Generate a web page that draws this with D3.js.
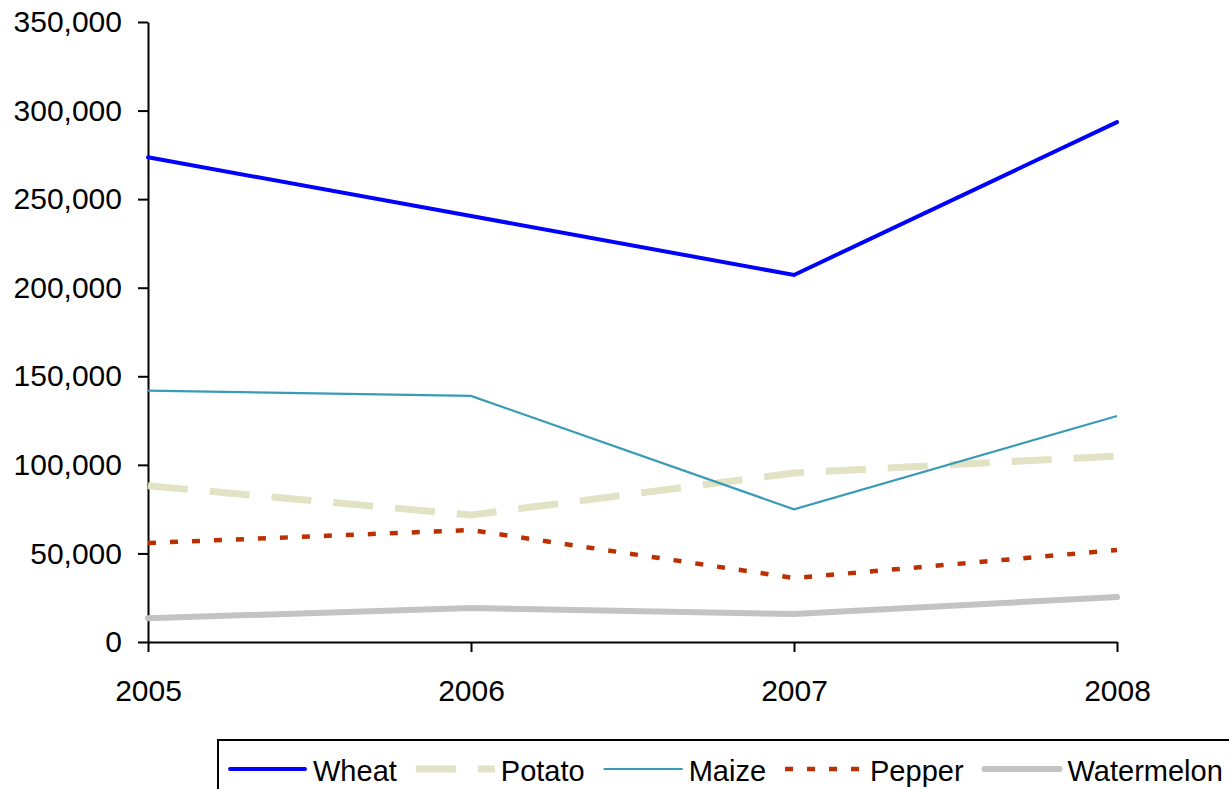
<!DOCTYPE html>
<html>
<head>
<meta charset="utf-8">
<script src="https://cdn.jsdelivr.net/npm/d3@7"></script>
<style>
  html, body { margin: 0; padding: 0; background: #fff; }
  svg { display: block; font-family: "Liberation Sans", Arial, sans-serif; }
</style>
</head>
<body>
<svg id="chart" width="1229" height="789"></svg>
<script>
const years = ["2005", "2006", "2007", "2008"];
const wheat = [273600, 240500, 207200, 293500];
const potato = [88200, 71700, 95400, 105000];
const maize = [141900, 138900, 74900, 127600];
const pepper = [55900, 63200, 36100, 51900];
const watermelon = [13400, 19200, 15800, 25400];
const yTicks = [0, 50000, 100000, 150000, 200000, 250000, 300000, 350000];

const seriesNames = ["Wheat", "Potato", "Maize", "Pepper", "Watermelon"];
const seriesValues = [wheat, potato, maize, pepper, watermelon];
const seriesStyle = {
  Wheat:      { color: "#0000ff", width: 4,   dash: null,   cap: "round" },
  Potato:     { color: "#e2e2c4", width: 7,   dash: "40,22", cap: "butt" },
  Maize:      { color: "#3a9bb5", width: 2.2, dash: null,   cap: "butt" },
  Pepper:     { color: "#bb3000", width: 4.5, dash: "8,14",  cap: "butt" },
  Watermelon: { color: "#c3c3c3", width: 6,   dash: null,   cap: "round" }
};

const svg = d3.select("#chart");
const x = d3.scalePoint().domain(years).range([148, 1117]);
const y = d3.scaleLinear().domain([0, 350000]).range([642, 22]);

const fontSize = 30;
const legendFontSize = 29;

// Y axis
const yAxis = svg.append("g")
  .attr("transform", "translate(148,0)")
  .call(d3.axisLeft(y).tickValues(yTicks).tickFormat(d3.format(",")).tickSize(10).tickSizeOuter(0).tickPadding(16));
yAxis.selectAll("text").attr("font-size", fontSize).attr("fill", "#000").attr("font-family", "Liberation Sans, Arial, sans-serif");
yAxis.selectAll("line").attr("stroke", "#000").attr("stroke-width", 2);
yAxis.select(".domain").attr("stroke", "#000").attr("stroke-width", 2);

// X axis
const xAxis = svg.append("g")
  .attr("transform", "translate(0,642)")
  .call(d3.axisBottom(x).tickSize(10).tickSizeOuter(0).tickPadding(28));
xAxis.selectAll("text").attr("font-size", fontSize).attr("fill", "#000").attr("font-family", "Liberation Sans, Arial, sans-serif");
xAxis.selectAll("line").attr("stroke", "#000").attr("stroke-width", 2);
xAxis.select(".domain").attr("stroke", "#000").attr("stroke-width", 2);

// Lines
const line = d3.line().x((d, i) => x(years[i])).y(d => y(d));
const order = ["Watermelon", "Pepper", "Potato", "Maize", "Wheat"];
order.forEach(name => {
  const idx = seriesNames.indexOf(name);
  const st = seriesStyle[name];
  svg.append("path")
    .datum(seriesValues[idx])
    .attr("d", line)
    .attr("fill", "none")
    .attr("stroke", st.color)
    .attr("stroke-width", st.width)
    .attr("stroke-linecap", st.cap)
    .attr("stroke-linejoin", "miter")
    .attr("stroke-dasharray", st.dash);
});

// Legend
const legend = svg.append("g");
legend.append("rect")
  .attr("x", 218).attr("y", 740).attr("width", 1100).attr("height", 100)
  .attr("fill", "#fff").attr("stroke", "#000").attr("stroke-width", 2);

let cx = 228;
const ly = 769;
seriesNames.forEach(name => {
  const st = seriesStyle[name];
  legend.append("line")
    .attr("x1", cx + (st.cap === "round" ? 2 : 0)).attr("x2", cx + 79 - (st.cap === "round" ? 2 : 0))
    .attr("y1", ly).attr("y2", ly)
    .attr("stroke", st.color)
    .attr("stroke-width", st.width)
    .attr("stroke-linecap", st.cap)
    .attr("stroke-dasharray", st.dash);
  const t = legend.append("text")
    .attr("x", cx + 85).attr("y", 781)
    .attr("font-size", legendFontSize)
    .attr("fill", "#000")
    .text(name);
  const w = t.node().getComputedTextLength();
  cx = cx + 85 + w + 19;
});
</script>
</body>
</html>
